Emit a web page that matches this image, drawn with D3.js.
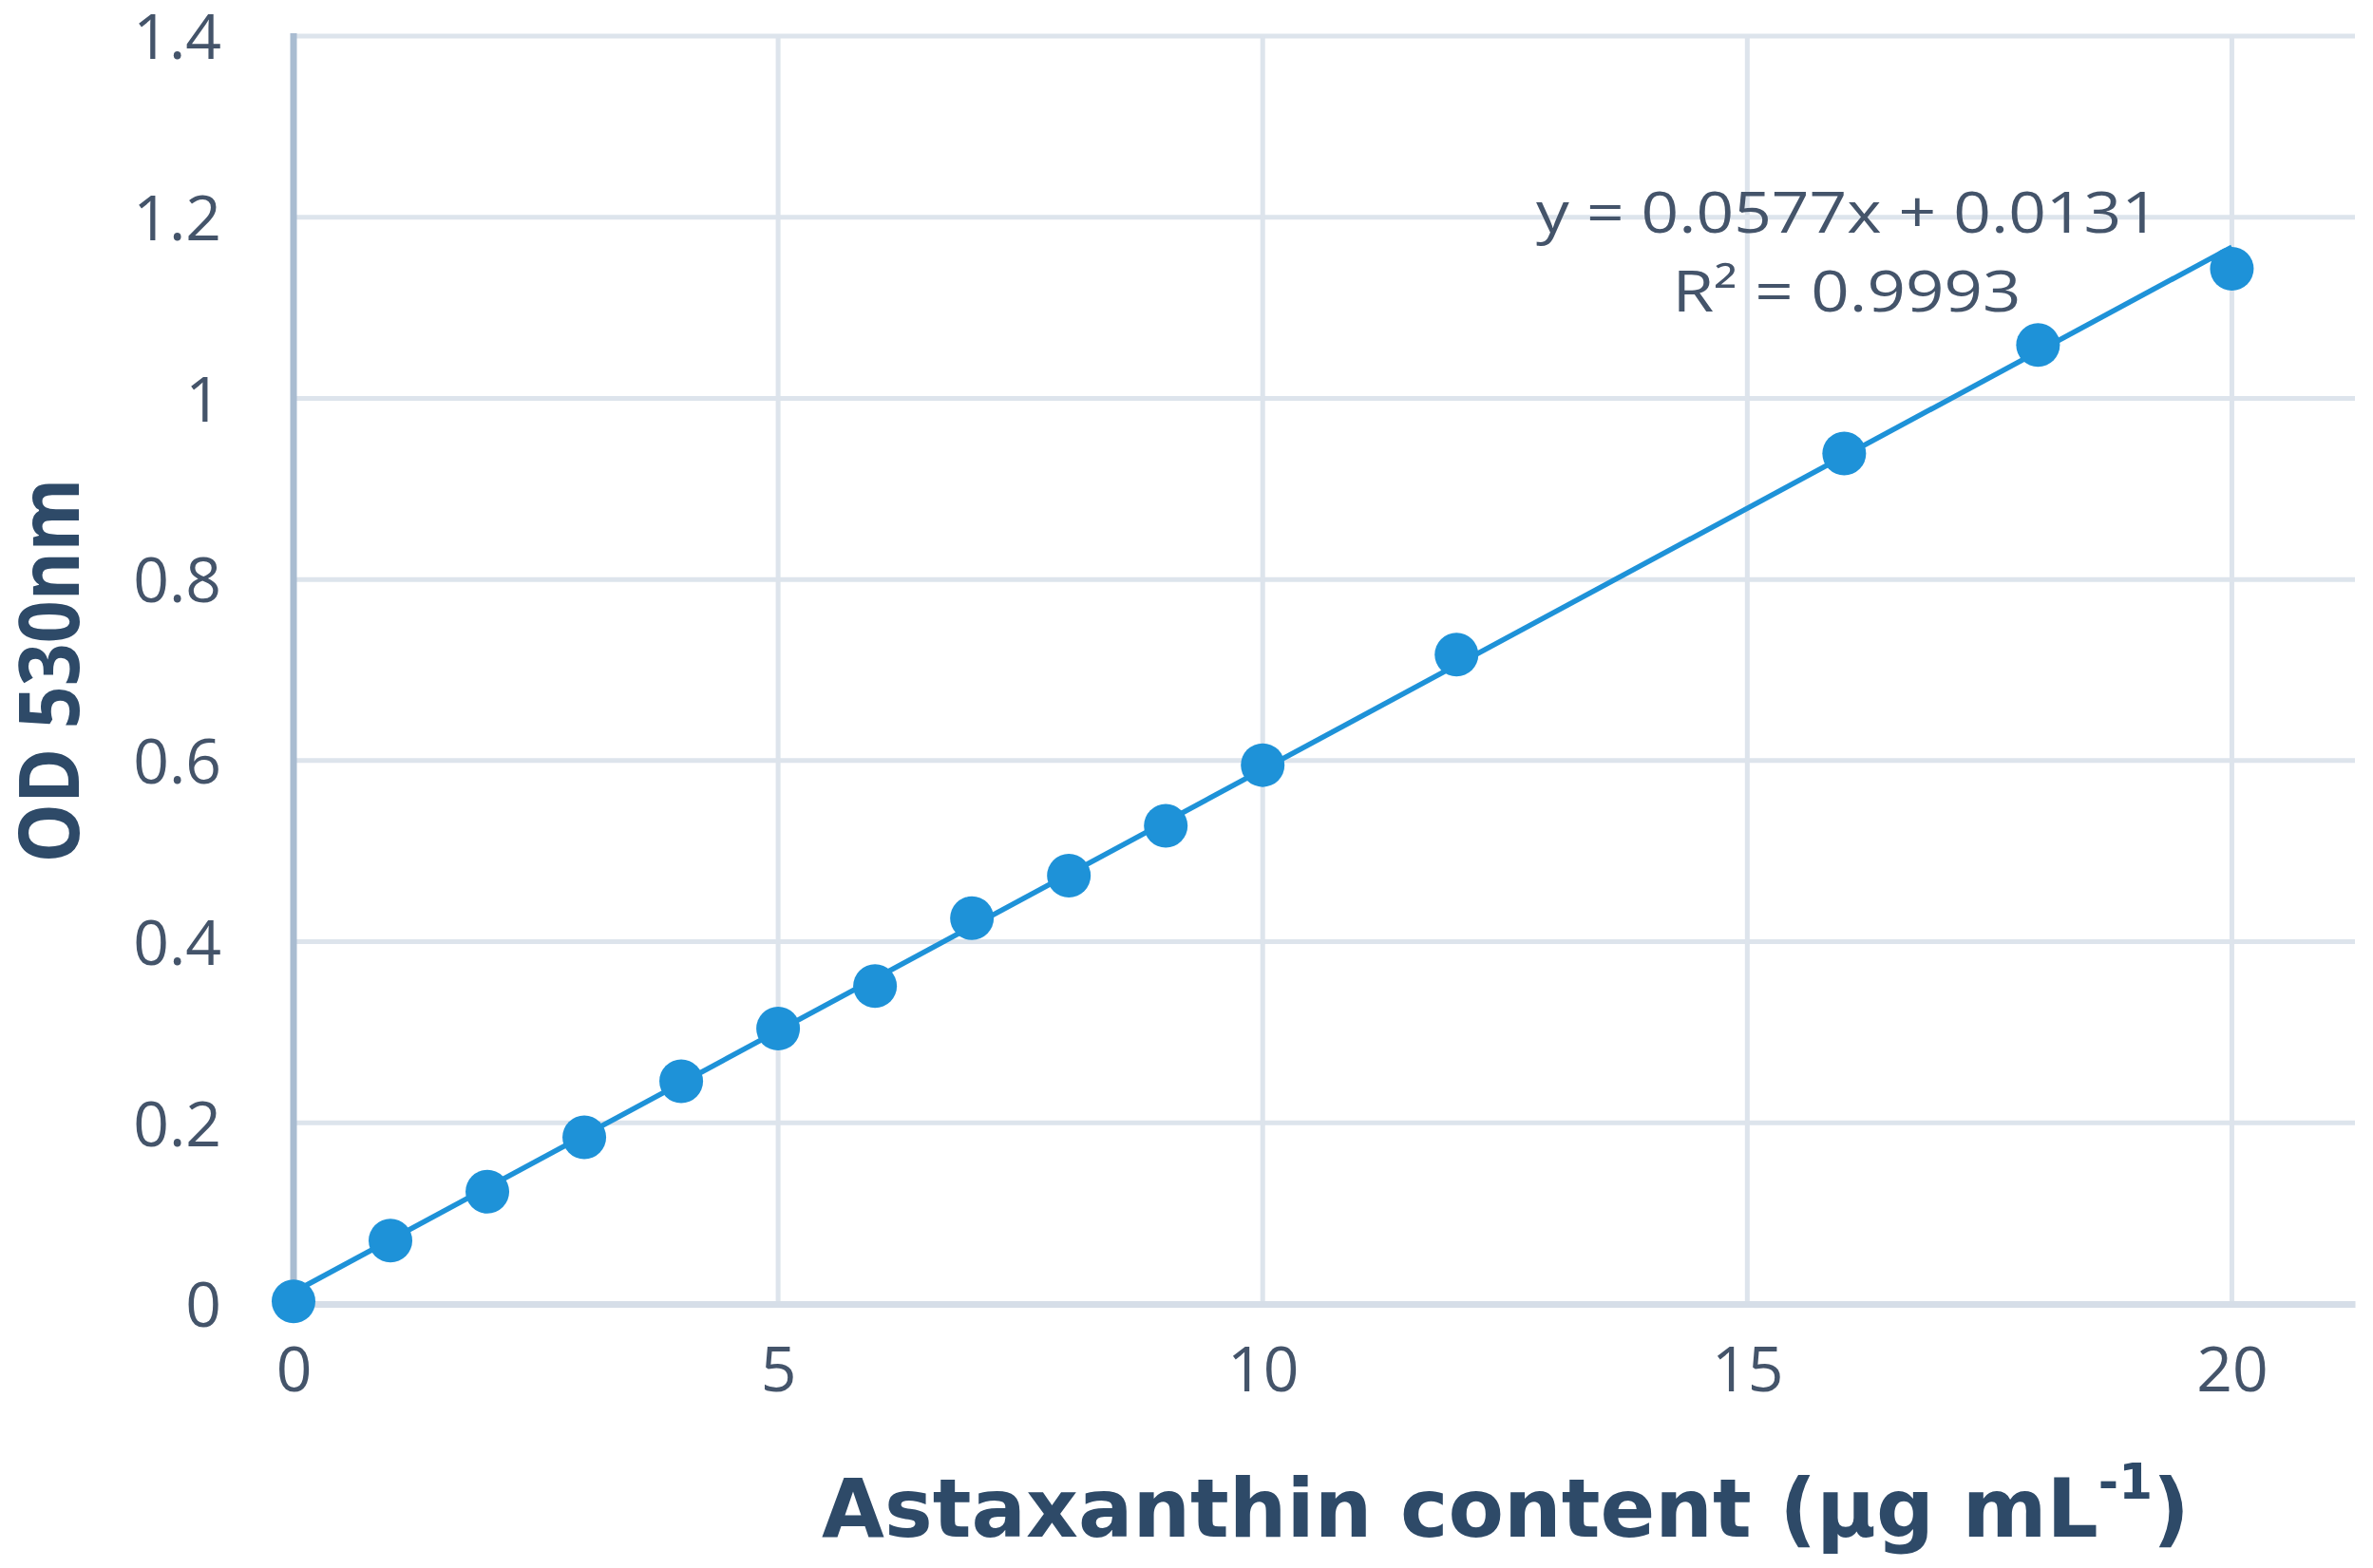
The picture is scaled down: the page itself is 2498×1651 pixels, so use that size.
<!DOCTYPE html>
<html>
<head>
<meta charset="utf-8">
<script src="https://cdn.jsdelivr.net/npm/d3@7"></script>
<style>
  html, body { margin: 0; padding: 0; background: #fff; }
  svg { display: block; }
</style>
</head>
<body>
<svg width="2498" height="1651"></svg>
<script>
// standard curve data
var concentration = [0, 1, 2, 3, 4, 5, 6, 7, 8, 9, 10, 12, 16, 18, 20];
var od530 = [0.003, 0.070, 0.124, 0.184, 0.246, 0.304, 0.351, 0.426, 0.473, 0.528, 0.595, 0.717, 0.939, 1.059, 1.143];
var xTicks = [0, 5, 10, 15, 20];
var yTicks = [0, 0.2, 0.4, 0.6, 0.8, 1, 1.2, 1.4];
var slope = 0.0577, intercept = 0.0131;
var equationLines = ["y = 0.0577x + 0.0131", "R² = 0.9993"];

var svg = d3.select("svg");
var plotLeft = 309, plotRight = 2479, plotTop = 38, plotBottom = 1373;

var x = d3.scaleLinear().domain([0, 21.27]).range([plotLeft, plotRight]);
var y = d3.scaleLinear().domain([0, 1.4]).range([plotBottom, plotTop]);

var textColor = "#44546a";
var titleColor = "#2e4a68";
var blue = "#1e92d8";

// squeeze/stretch a text horizontally so it spans a given width
function fitWidth(sel, w, cx) {
  var bw = sel.node().getBBox().width;
  var s = w / bw;
  sel.attr("transform", "translate(" + cx + ",0) scale(" + s + ",1) translate(" + (-cx) + ",0)");
}

// horizontal grid
svg.append("g")
  .selectAll("line")
  .data(yTicks.filter(function(d) { return d > 0; }))
  .enter().append("line")
    .attr("x1", plotLeft).attr("x2", plotRight)
    .attr("y1", function(d) { return y(d); })
    .attr("y2", function(d) { return y(d); })
    .attr("stroke", "#dde4ec")
    .attr("stroke-width", 5);

// vertical grid
svg.append("g")
  .selectAll("line")
  .data(xTicks.filter(function(d) { return d > 0; }))
  .enter().append("line")
    .attr("x1", function(d) { return x(d); })
    .attr("x2", function(d) { return x(d); })
    .attr("y1", plotTop).attr("y2", plotBottom)
    .attr("stroke", "#dde4ec")
    .attr("stroke-width", 5);

// axes via d3 axis generators, restyled
var yAxis = svg.append("g")
  .attr("transform", "translate(" + plotLeft + ",0)")
  .call(d3.axisLeft(y).tickValues(yTicks).tickSize(0).tickPadding(76).tickFormat(d3.format("~g")));
yAxis.select(".domain").remove();

var xAxis = svg.append("g")
  .attr("transform", "translate(0," + plotBottom + ")")
  .call(d3.axisBottom(x).tickValues(xTicks).tickSize(0).tickPadding(45).tickFormat(d3.format("d")));
xAxis.select(".domain").attr("stroke", "#d6dee8").attr("stroke-width", 7);

svg.selectAll(".tick text")
  .attr("font-family", "'Open Sans', sans-serif")
  .attr("font-size", 66)
  .attr("fill", textColor);
yAxis.selectAll(".tick text").attr("dy", "0.36em");
xAxis.selectAll(".tick text").attr("dy", "0.71em");

// y axis line drawn on top of x domain
svg.append("line")
  .attr("x1", plotLeft).attr("x2", plotLeft)
  .attr("y1", plotTop - 3).attr("y2", plotBottom + 3)
  .attr("stroke", "#a9bcd1").attr("stroke-width", 7);

// trend line
var xr = d3.extent(concentration);
svg.append("path")
  .datum(xr)
  .attr("fill", "none")
  .attr("stroke", blue)
  .attr("stroke-width", 5.5)
  .attr("d", d3.line()
    .x(function(d) { return x(d); })
    .y(function(d) { return y(slope * d + intercept); }));

// markers
svg.append("g")
  .selectAll("ellipse")
  .data(concentration)
  .enter().append("ellipse")
    .attr("cx", function(d) { return x(d); })
    .attr("cy", function(d, i) { return y(od530[i]); })
    .attr("rx", 23)
    .attr("ry", 23)
    .attr("fill", blue);

// equation label
var eq = svg.append("g")
  .attr("font-family", "'Open Sans', sans-serif")
  .attr("font-size", 60)
  .attr("fill", textColor)
  .attr("text-anchor", "middle");
var eq1 = eq.append("text").attr("x", 1945).attr("y", 245).text(equationLines[0]);
var eq2 = eq.append("text").attr("x", 1944).attr("y", 328).text(equationLines[1]);
fitWidth(eq1, 656, 1945);
fitWidth(eq2, 367, 1944);

// x title
var xt = svg.append("text")
  .attr("x", 1585).attr("y", 1618)
  .attr("text-anchor", "middle")
  .attr("font-family", "'DejaVu Sans', sans-serif")
  .attr("font-weight", "bold")
  .attr("font-size", 86)
  .attr("fill", titleColor);
xt.append("tspan").text("Astaxanthin content (μg mL");
xt.append("tspan").attr("font-size", 52).attr("dy", -40).text("-1");
xt.append("tspan").attr("dy", 40).text(")");
fitWidth(xt, 1440, 1585);

// y title
var ytg = svg.append("g").attr("transform", "translate(83,706) rotate(-90)");
var yt = ytg.append("text")
  .attr("x", 0).attr("y", 0)
  .attr("text-anchor", "middle")
  .attr("font-family", "'Open Sans', sans-serif")
  .attr("font-weight", "bold")
  .attr("font-size", 88)
  .attr("fill", titleColor)
  .text("OD 530nm");
fitWidth(yt, 405, 0);
</script>
</body>
</html>
